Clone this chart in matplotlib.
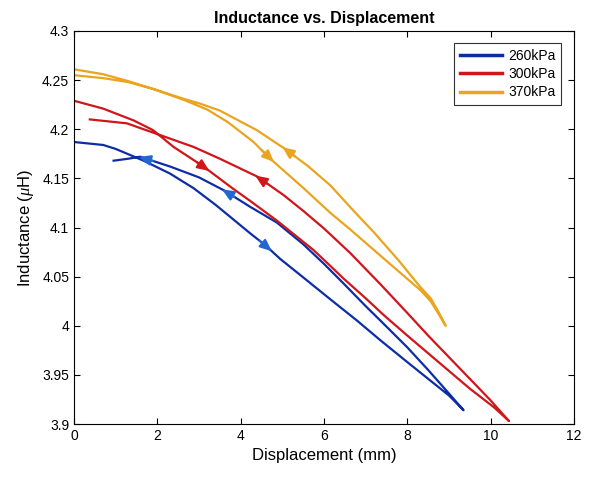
import matplotlib.pyplot as plt
import numpy as np

plt.rcParams['font.family'] = ['Liberation Sans', 'DejaVu Sans']
plt.rcParams['mathtext.fontset'] = 'custom'
plt.rcParams['mathtext.it'] = 'Liberation Serif:italic'

# 260kPa loop: loading (x increasing) then return
x260_load = [0, 0.7, 1.0, 1.67, 2.3, 2.87, 3.4, 3.83, 4.23, 4.59, 4.95, 5.42, 6.15, 6.8, 7.36, 8.0, 8.5, 9.0, 9.35]
y260_load = [4.187, 4.184, 4.180, 4.168, 4.155, 4.140, 4.123, 4.108, 4.094, 4.082, 4.068, 4.052, 4.027, 4.005, 3.985, 3.963, 3.946, 3.929, 3.914]
x260_ret = [9.35, 9.0, 8.5, 8.0, 7.36, 7.0, 6.47, 6.0, 5.5, 4.87, 4.23, 3.59, 3.0, 2.31, 1.59, 1.3, 0.95]
y260_ret = [3.914, 3.931, 3.955, 3.978, 4.005, 4.020, 4.043, 4.063, 4.083, 4.105, 4.121, 4.138, 4.151, 4.162, 4.172, 4.170, 4.168]

# 300kPa loop
x300_load = [0, 0.7, 1.43, 1.9, 2.39, 3.11, 3.8, 4.23, 4.87, 5.75, 6.15, 6.47, 7.0, 7.43, 8.0, 8.5, 9.0, 9.5, 10.08, 10.44]
y300_load = [4.229, 4.221, 4.209, 4.199, 4.182, 4.162, 4.140, 4.127, 4.107, 4.077, 4.061, 4.048, 4.028, 4.011, 3.990, 3.972, 3.954, 3.936, 3.917, 3.903]
x300_ret = [10.44, 10.0, 9.5, 9.0, 8.5, 8.0, 7.36, 6.63, 6.0, 5.5, 5.03, 4.39, 3.5, 2.87, 2.07, 1.27, 0.38]
y300_ret = [3.903, 3.924, 3.946, 3.968, 3.990, 4.013, 4.042, 4.074, 4.099, 4.117, 4.133, 4.152, 4.170, 4.182, 4.194, 4.206, 4.210]

# 370kPa loop
x370_load = [0, 0.7, 1.3, 1.9, 2.63, 3.2, 3.7, 4.31, 4.71, 5.51, 6.15, 6.63, 7.5, 8.32, 8.56, 8.75, 8.92]
y370_load = [4.261, 4.256, 4.249, 4.241, 4.230, 4.220, 4.207, 4.187, 4.170, 4.140, 4.115, 4.098, 4.066, 4.036, 4.025, 4.012, 4.000]
x370_ret = [8.92, 8.75, 8.56, 8.3, 7.8, 7.2, 6.71, 6.15, 5.6, 5.03, 4.39, 3.5, 3.03, 2.63, 1.9, 1.3, 0.7, 0]
y370_ret = [4.000, 4.014, 4.028, 4.040, 4.066, 4.095, 4.117, 4.143, 4.163, 4.181, 4.199, 4.219, 4.226, 4.231, 4.241, 4.248, 4.252, 4.255]

labels = ['260kPa', '300kPa', '370kPa']
colors = ['#0D2DA6', '#D0161A', '#EBA41E']
arrow_colors = ['#2466D0', '#D0161A', '#EBA41E']

# arrows: (branch, tail x, head x)
arrows_260 = [('load', 4.45, 4.75), ('ret', 3.85, 3.55), ('ret', 1.9, 1.55)]
arrows_300 = [('load', 2.95, 3.25), ('ret', 4.65, 4.35)]
arrows_370 = [('load', 4.5, 4.8), ('ret', 5.3, 5.0)]

fig = plt.figure(figsize=(5.94, 4.79), dpi=100)
ax = fig.add_axes([0.1246, 0.1148, 0.8417, 0.8205])

loops = [(x260_load, y260_load, x260_ret, y260_ret, arrows_260),
         (x300_load, y300_load, x300_ret, y300_ret, arrows_300),
         (x370_load, y370_load, x370_ret, y370_ret, arrows_370)]

for i, (xl, yl, xr, yr, arrs) in enumerate(loops):
    ax.plot(xl + xr[1:], yl + yr[1:], color=colors[i], lw=1.6, label=labels[i])
    for branch, xa, xb in arrs:
        bx, by = (xl, yl) if branch == 'load' else (xr[::-1], yr[::-1])
        ya = np.interp(xa, bx, by)
        yb = np.interp(xb, bx, by)
        ax.annotate('', xy=(xb, yb), xytext=(xa, ya),
                    arrowprops=dict(arrowstyle='-|>,head_length=0.7,head_width=0.3',
                                    color=arrow_colors[i], lw=1.6, shrinkA=0, shrinkB=0))

ax.set_xlim(0, 12)
ax.set_ylim(3.9, 4.3)
ax.set_xticks(np.arange(0, 13, 2))
ax.set_yticks([3.9, 3.95, 4.0, 4.05, 4.1, 4.15, 4.2, 4.25, 4.3])
ax.set_yticklabels(['3.9', '3.95', '4', '4.05', '4.1', '4.15', '4.2', '4.25', '4.3'])
ax.tick_params(direction='in', top=True, right=True, labelsize=10, length=4)
for s in ax.spines.values():
    s.set_linewidth(0.8)

ax.set_title('Inductance vs. Displacement', fontsize=11.5, fontweight='bold', pad=6)
ax.set_xlabel('Displacement (mm)', fontsize=12)
ax.set_ylabel(r'Inductance ($\mu$H)', fontsize=12)

leg = ax.legend(loc='upper right', fontsize=10, handlelength=3, handletextpad=0.5,
                fancybox=False, edgecolor='#333333', framealpha=1,
                borderaxespad=0.9, labelspacing=0.3)
for line in leg.get_lines():
    line.set_linewidth(2.5)
leg.get_frame().set_linewidth(0.8)

plt.savefig('out.png', dpi=100)
